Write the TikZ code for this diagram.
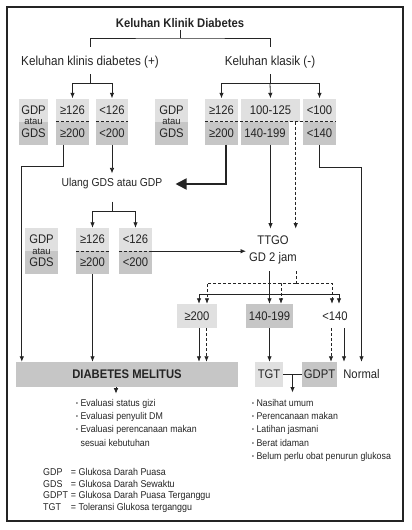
\documentclass[tikz,border=0pt]{standalone}
\usepackage{fontspec}
\setmainfont{Liberation Sans}[FakeStretch=0.9]
\newfontfamily\plainsans{Liberation Sans}
\usetikzlibrary{arrows.meta,calc}
\definecolor{boxlt}{HTML}{E0E0E0}
\definecolor{boxdk}{HTML}{C6C6C6}
\definecolor{ink}{HTML}{242424}
\newcommand{\bul}{\raisebox{1pt}{\fontsize{6}{6}\selectfont\textbullet}}
\tikzset{
  every node/.style={font=\fontsize{12.5}{14}\selectfont, text=ink, inner sep=2pt},
  lt/.style={fill=boxlt, minimum height=23pt, inner sep=0pt},
  dk/.style={fill=boxdk, minimum height=23pt, inner sep=0pt},
  ln/.style={draw=ink, line width=0.8pt},
  lnk/.style={ln, -{Latex[length=5.5pt,width=4.5pt]}},
  cut/.style={dash pattern=on 3pt off 2pt},
  thk/.style={draw=ink, line width=1.8pt, -{Triangle[length=11pt,width=11pt]}},
  lst/.style={anchor=north west, inner sep=0pt, font=\fontsize{9.8}{13.2}\selectfont}
}
\begin{document}
\begin{tikzpicture}[x=1pt,y=-1pt]
\useasboundingbox (0,0) rectangle (412,530);
\draw[draw=ink, line width=1.2pt] (7,7) rectangle (403,521);
\node[font=\bfseries\fontsize{12.5}{14}\selectfont] (title) at (180,23) {Keluhan Klinik Diabetes};
\node[font=\fontsize{13}{15}\selectfont] (kp) at (90,62) {Keluhan klinis diabetes (+)};
\node[font=\fontsize{13}{15}\selectfont] (km) at (270,62) {Keluhan klasik (-)};
\node[lt, minimum width=29pt] (g1a) at (33.5,110) {GDP};
\node[dk, minimum width=29pt] (g1b) at (33.5,133) {GDS};
\node[font=\plainsans\fontsize{9.5}{10}\selectfont, inner sep=0pt] (g1c) at (33.5,121.5) {atau};
\node[lt, minimum width=33pt] (p1a) at (72.5,110) {≥126};
\node[dk, minimum width=33pt] (p1b) at (72.5,133) {≥200};
\node[lt, minimum width=32pt] (q1a) at (112,110) {<126};
\node[dk, minimum width=32pt] (q1b) at (112,133) {<200};
\node[lt, minimum width=33pt] (g2a) at (171.5,110) {GDP};
\node[dk, minimum width=33pt] (g2b) at (171.5,133) {GDS};
\node[font=\plainsans\fontsize{9.5}{10}\selectfont, inner sep=0pt] (g2c) at (171.5,121.5) {atau};
\node[lt, minimum width=33pt] (r1a) at (221.5,110) {≥126};
\node[dk, minimum width=33pt] (r1b) at (221.5,133) {≥200};
\node[lt, minimum width=59pt] (s1a) at (270.5,110) {100-125};
\node[dk, minimum width=48pt] (s1b) at (265,133) {140-199};
\node[lt, minimum width=33pt] (t1a) at (319.5,110) {<100};
\node[dk, minimum width=33pt] (t1b) at (319.5,133) {<140};
\node[font=\fontsize{11.5}{13}\selectfont] (ulang) at (112,184) {Ulang GDS atau GDP};
\node[lt, minimum width=33pt] (g3a) at (41.5,239.5) {GDP};
\node[dk, minimum width=33pt] (g3b) at (41.5,262.5) {GDS};
\node[font=\plainsans\fontsize{9.5}{10}\selectfont, inner sep=0pt] (g3c) at (41.5,251) {atau};
\node[lt, minimum width=33pt] (p2a) at (92.5,239.5) {≥126};
\node[dk, minimum width=33pt] (p2b) at (92.5,262.5) {≥200};
\node[lt, minimum width=33pt] (q2a) at (135.5,239.5) {<126};
\node[dk, minimum width=33pt] (q2b) at (135.5,262.5) {<200};
\node[align=center, inner xsep=3pt, inner ysep=7pt] (ttgo) at (273,250) {TTGO\\[3pt]GD 2 jam};
\node[lt, minimum width=40pt, minimum height=24pt] (m1) at (197,316) {≥200};
\node[dk, minimum width=47pt, minimum height=24pt] (m2) at (269.5,316) {140-199};
\node[minimum height=24pt, inner sep=0pt] (m3) at (335,316) {<140};
\node[dk, minimum width=222pt, minimum height=25pt, font=\bfseries\fontsize{12.5}{14}\selectfont] (dm) at (127,374.5) {DIABETES MELITUS};
\node[lt, minimum width=28pt, minimum height=25pt] (tgt) at (269,374.5) {TGT};
\node[dk, minimum width=35pt, minimum height=25pt] (gdpt) at (319.5,374.5) {GDPT};
\node[minimum height=25pt, inner sep=0pt] (normal) at (361.5,374.5) {Normal};
\node[lst] (dmlist) at (76,397) {\begin{tabular}{@{}l@{\hspace{2.5pt}}l@{}}
\bul & Evaluasi status gizi\\
\bul & Evaluasi penyulit DM\\
\bul & Evaluasi perencanaan makan\\
 & sesuai kebutuhan
\end{tabular}};
\node[lst] (nglist) at (252,397) {\begin{tabular}{@{}l@{\hspace{2.5pt}}l@{}}
\bul & Nasihat umum\\
\bul & Perencanaan makan\\
\bul & Latihan jasmani\\
\bul & Berat idaman\\
\bul & Belum perlu obat penurun glukosa
\end{tabular}};
\node[lst, font=\fontsize{9.9}{11.7}\selectfont] (abbr) at (43,467) {\begin{tabular}{@{}l@{\hspace{3pt}}l@{}}
GDP & = Glukosa Darah Puasa\\
GDS & = Glukosa Darah Sewaktu\\
GDPT & = Glukosa Darah Puasa Terganggu\\
TGT & = Toleransi Glukosa terganggu
\end{tabular}};
\coordinate (jt) at (180,38);
\draw[ln] (title.south) -- (jt);
\draw[ln] ([yshift=7pt]kp.north) |- (jt) -| ([yshift=7pt]km.north);
\draw[ln] ([yshift=-4pt]kp.south) -- ++(0,9) coordinate (jk);
\draw[lnk] (jk) -| (p1a.north);
\draw[lnk] (jk) -| (q1a.north);
\draw[ln] ([yshift=-4pt]km.south) -- ++(0,9) coordinate (jm);
\draw[lnk] (jm) -| (r1a.north);
\draw[lnk] (jm) -- (s1a.north);
\draw[lnk] (jm) -| (t1a.north);
\draw[ln, cut] (p1a.south west) -- (p1a.south east);
\draw[ln, cut] (q1a.south west) -- (q1a.south east);
\draw[ln, cut] (r1a.south west) -- (t1a.south east);
\draw[lnk] ([xshift=-9.5pt]p1b.south) -- ++(0,21.5) -| ([xshift=6pt]dm.north west);
\draw[lnk] (q1b.south) -- ([yshift=3pt]ulang.north);
\draw[thk] ([xshift=4.5pt]r1b.south) |- ([xshift=11pt]ulang.east);
\draw[lnk] (s1a.south |- s1b.south) -- (s1a.south |- ttgo.north);
\draw[lnk, cut] ([xshift=-4.5pt]s1a.south east) -- ([xshift=-4.5pt]s1a.south east |- ttgo.north);
\draw[lnk] (t1b.south) -- ++(0,22.5) -| (normal.north);
\draw[ln] ([yshift=-10pt]ulang.south) -- ++(0,10) coordinate (ju);
\draw[lnk] (ju) -| (p2a.north);
\draw[lnk] (ju) -| (q2a.north);
\draw[ln, cut] (p2a.south west) -- (p2a.south east);
\draw[ln, cut] (q2a.south west) -- (q2a.south east);
\draw[lnk] (q2a.south east) -- (q2a.south east -| ttgo.west);
\draw[lnk] (p2b.south) -- (p2b.south |- dm.north);
\coordinate (js) at (269.5,294);
\coordinate (jd) at (296,283);
\draw[lnk] (ttgo.south -| m2.north) -- (m2.north);
\draw[lnk] (js) -| ([xshift=2pt]m1.north);
\draw[lnk] (js) -| ([xshift=4pt]m3.north);
\draw[ln, cut] (ttgo.south -| jd) -- (jd);
\draw[lnk, cut] (jd) -| ([xshift=10pt]m1.north);
\draw[lnk, cut] (jd) -| ([xshift=11.5pt]m2.north);
\draw[lnk, cut] (jd) -| ([xshift=-3pt]m3.north);
\draw[lnk] ([xshift=2pt]m1.south) -- ([xshift=2pt]m1.south |- dm.north);
\draw[lnk, cut] ([xshift=9.5pt]m1.south) -- ([xshift=9.5pt]m1.south |- dm.north);
\draw[lnk] (m2.south) -- (m2.south |- tgt.north);
\draw[lnk, cut] ([xshift=-4pt]m3.south) -- ([xshift=-4pt]m3.south |- gdpt.north);
\draw[lnk] ([xshift=9pt]m3.south) -- ([xshift=9pt]m3.south |- normal.north);
\draw[ln] (tgt.east) -- (gdpt.west);
\draw[lnk] ($(tgt.east)!.5!(gdpt.west)$) -- ++(0,18);
\draw[lnk] ([xshift=-11pt]dm.south) -- ++(0,6.5);
\end{tikzpicture}
\end{document}
